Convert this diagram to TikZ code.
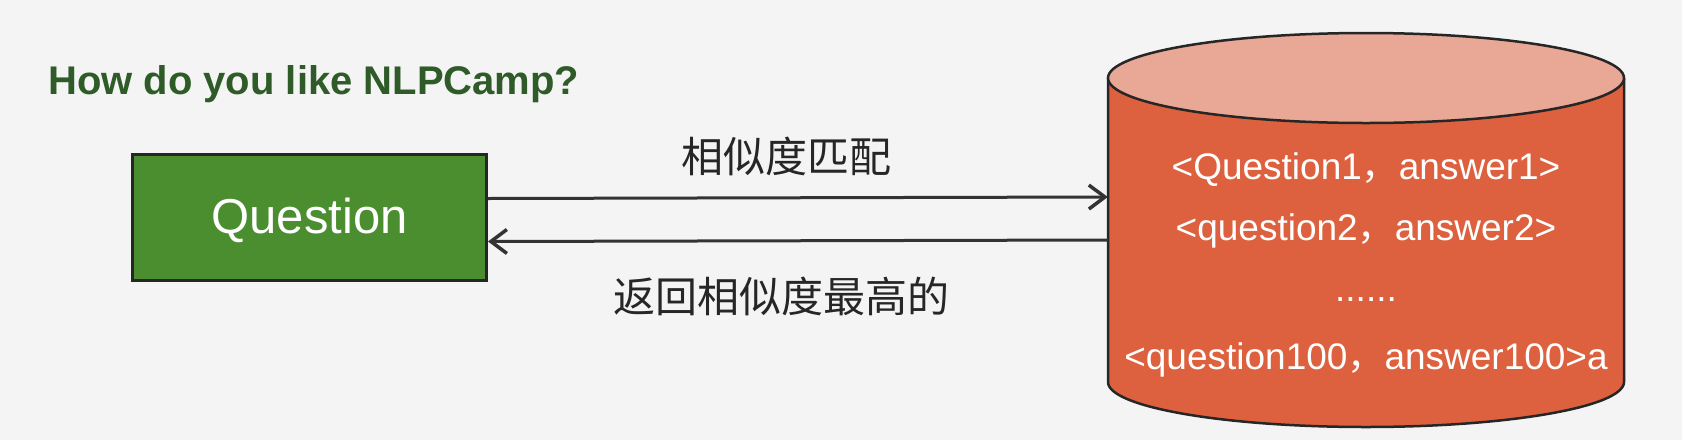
\documentclass[tikz,border=0pt]{standalone}
\usepackage{fontspec}
\setmainfont{Liberation Sans}
\newfontfamily\cjk{Noto Sans CJK SC}
\usetikzlibrary{arrows.meta}
\definecolor{bg}{HTML}{F4F4F4}
\definecolor{titlegreen}{HTML}{2F5B28}
\definecolor{qgreen}{HTML}{4B8E2F}
\definecolor{edge}{HTML}{262626}
\definecolor{dbbody}{HTML}{DD613E}
\definecolor{dbtop}{HTML}{E9A796}
\definecolor{arrowc}{HTML}{333333}
\tikzset{
  conn/.style={draw=arrowc, line width=3pt, -{Straight Barb[length=16pt,width=24pt,line width=3.5pt]}},
  cjklabel/.style={font=\cjk\fontsize{42}{50}\selectfont, text=black!85, inner sep=0},
  dbtext/.style={font=\fontsize{37}{44}\selectfont, text=white, inner sep=0},
}
\begin{document}
\begin{tikzpicture}[x=1pt,y=-1pt]
\fill[bg] (0,0) rectangle (1682,440);
\useasboundingbox (0,0) rectangle (1682,440);
\node[anchor=base west, font=\fontsize{40}{48}\selectfont\bfseries, text=titlegreen, inner sep=0] (title) at (48,94) {How do you like NLPCamp?};
\node[draw=edge, line width=3pt, fill=qgreen, minimum width=354pt, minimum height=126pt, inner sep=0, anchor=north west, text=white, font=\fontsize{49}{58}\selectfont, text depth=4pt] (q) at (131,153) {Question};
% cylinder
\fill[dbbody] (1108,78) -- (1108,382) arc[start angle=180, end angle=0, x radius=258, y radius=45] -- (1624,78) -- cycle;
\draw[edge, line width=2.5pt] (1108,78) -- (1108,382) arc[start angle=180, end angle=0, x radius=258, y radius=45] -- (1624,78);
\filldraw[fill=dbtop, draw=edge, line width=2.5pt] (1366,78) ellipse[x radius=258, y radius=45];
\node[inner sep=0, minimum width=516pt, minimum height=304pt] (db) at (1366,230) {};
\node[dbtext] (r1) at (1366,170) {<Question1{\cjk ，}answer1>};
\node[dbtext] (r2) at (1366,231) {<question2{\cjk ，}answer2>};
\node[dbtext] (r3) at (1366,300) {......};
\node[dbtext] (r4) at (1366,360) {<question100{\cjk ，}answer100>a};
% connectors
\draw[conn] ([yshift=19pt]q.east) -- ([yshift=33pt]db.west);
\draw[conn] ([yshift=-10pt]db.west) -- ([yshift=-24pt]q.east);
\node[cjklabel] (l1) at (786,156) {相似度匹配};
\node[cjklabel] (l2) at (781,296) {返回相似度最高的};
\end{tikzpicture}
\end{document}
